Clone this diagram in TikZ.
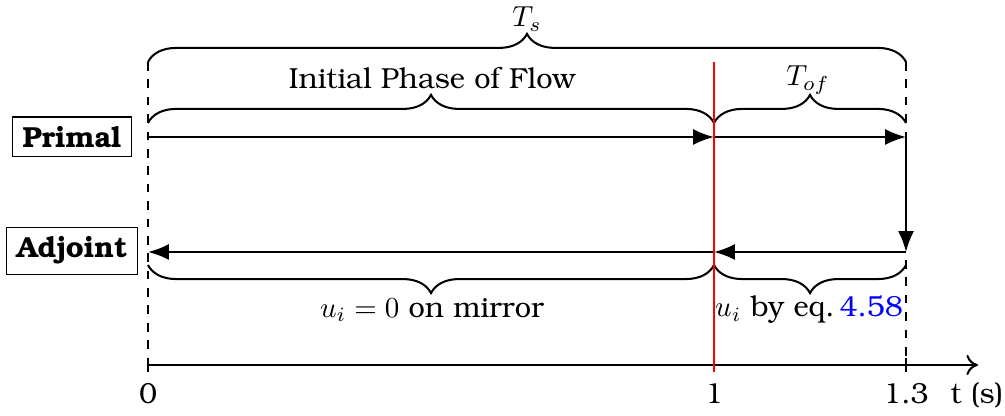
\documentclass[tikz,border=0pt]{standalone}
\usepackage[T1]{fontenc}
\usepackage{bookman}
\usepackage{xcolor}
\usetikzlibrary{arrows.meta,decorations.pathreplacing}
\begin{document}
\begin{tikzpicture}[x=0.345pt,y=-0.345pt,
  lw/.style={line width=0.7pt},
  flow/.style={lw,-{Latex[length=7.2pt,width=5.5pt]}},
  brc/.style={lw,decorate,decoration={brace,amplitude=9.7pt}},
  guide/.style={dashed,line width=0.4pt},
  lbl/.style={draw,line width=0.4pt,font=\bfseries,inner xsep=3.5pt,inner ysep=3.3pt},
  txt/.style={inner sep=0pt},
  tick/.style={inner sep=0pt,anchor=base}]
\useasboundingbox (0,0) rectangle (1005,416);
% coordinates
\coordinate (P0) at (148,137); \coordinate (P1) at (714,137); \coordinate (P2) at (906,137);
\coordinate (A0) at (148,252); \coordinate (A1) at (714,252); \coordinate (A2) at (906,252);
\coordinate (T0) at (148,62);  \coordinate (T1) at (906,62);
\coordinate (I0) at (148,123); \coordinate (I1) at (714,123); \coordinate (I2) at (906,123);
\coordinate (B0) at (148,265); \coordinate (B1) at (714,265); \coordinate (B2) at (906,265);
\coordinate (X0) at (148,365); \coordinate (X1) at (714,365); \coordinate (X2) at (906,365);
\coordinate (Xe) at (978,365);
\coordinate (R0) at (714,62);  \coordinate (R1) at (714,372);
\coordinate (D1) at (906,260);
% side labels
\node[lbl] (primal) at (72,137) {Primal};
\node[lbl] (adjoint) at (72,251) {Adjoint};
% guides
\draw[guide] (T0) -- (X0);
\draw[guide] (T1) -- (P2);
\draw[guide] (D1) -- (X2);
% braces
\draw[brc] (T0) -- (T1);
\draw[brc] (I0) -- (I1);
\draw[brc] (I1) -- (I2);
\draw[brc] (B1) -- (B0);
\draw[brc] (B2) -- (B1);
\node[txt] (ts) at (527,19) {$T_s$};
\node[txt] (ipf) at (432,78) {Initial Phase of Flow};
\node[txt] (tof) at (808,80) {$T_{of}$};
\node[txt] (mir) at (432,310) {$u_i=0$ on mirror};
\node[txt] (eq) at (809,310) {$u_i$ by eq.\,\textcolor{blue}{4.58}};
% flows
\draw[flow] (P0) -- (P1);
\draw[flow] (P1) -- (P2);
\draw[flow] (P2) -- (A2);
\draw[flow] (A2) -- (A1);
\draw[flow] (A1) -- (A0);
% axis
\draw[lw,-{To[length=4pt,width=7pt]}] (X0) -- (Xe);
\foreach \c in {X0,X1,X2} \draw[lw] ([yshift=-2.4pt]\c) -- ([yshift=2.4pt]\c);
\node[tick] (l0) at (148,404) {0};
\node[tick] (l1) at (714,404) {1};
\node[tick] (l13) at (906,404) {1.3};
\node[tick] (lt) at (977,404) {t (s)};
% red line
\draw[red,lw] (R0) -- (R1);
\end{tikzpicture}
\end{document}
